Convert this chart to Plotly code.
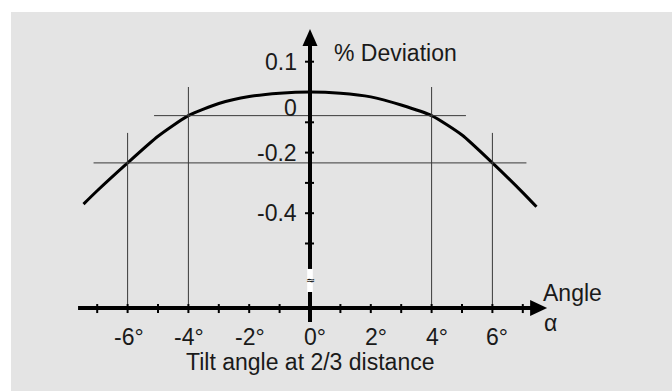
import plotly.graph_objects as go

# curve: tilt angle (deg) vs % deviation
angle = [-7.45, -7.0, -6.0, -5.0, -4.0, -3.0, -2.0, -1.0, 0.0,
         1.0, 2.0, 3.0, 4.0, 5.0, 6.0, 7.0, 7.45]
deviation = [-0.370, -0.326, -0.234, -0.146, -0.078, -0.038, -0.015, -0.004, 0.0,
             -0.004, -0.016, -0.043, -0.078, -0.142, -0.234, -0.332, -0.379]

# marked angles and the deviation there
ref_angle = [4, 6]
ref_deviation = [-0.078, -0.234]

x_tick_vals = [-7, -6, -5, -4, -3, -2, -1, 0, 1, 2, 3, 4, 5, 6, 7]
x_label_vals = [-6, -4, -2, 0, 2, 4, 6]
x_label_text = ["-6°", "-4°", "-2°", "0°", "2°", "4°", "6°"]
y_tick_vals = [0.1, 0, -0.1, -0.2, -0.3, -0.4, -0.5]
y_label_vals = [0.1, 0, -0.2, -0.4]
y_label_text = ["0.1", "0", "-0.2", "-0.4"]

# layout constants (pixel scale of the drawing)
W, H = 672, 391
X0_PX, PX_X = 310, 30.4     # px of 0 deg, px per degree
Y0_PX, PX_Y = 92, 303       # px of 0 %, px per 1.0 %


def dx(px):
    return px / PX_X


def dy(px):
    return px / PX_Y


AXIS_Y = -0.713             # where the (broken) x axis sits
X_START, X_TIP = -7.63, 7.8
Y_BOTTOM, Y_TIP = -0.759, 0.208
GAP = (-0.660, -0.584)
REF_TOP = [0.0165, -0.135]
REF_HALF = [5.13, 7.12]
FONT = dict(family="Liberation Sans, Arial, sans-serif", size=23, color="#1a1a1a")

fig = go.Figure()
fig.add_trace(go.Scatter(x=angle, y=deviation, mode="lines",
                         line=dict(color="black", width=3, shape="spline", smoothing=0.6),
                         hoverinfo="skip", showlegend=False))

shapes = []
# grey panel
shapes.append(dict(type="rect", xref="paper", yref="paper", x0=11 / W, x1=1,
                   y0=0, y1=1 - 12 / H, fillcolor="#e4e4e4", line_width=0,
                   layer="below"))

# reference lines at the marked angles
for a, d, top, half in zip(ref_angle, ref_deviation, REF_TOP, REF_HALF):
    for s in (-1, 1):
        shapes.append(dict(type="line", x0=s * a, x1=s * a, y0=AXIS_Y, y1=top,
                           line=dict(color="#3a3a3a", width=1)))
    shapes.append(dict(type="line", x0=-half, x1=half, y0=d, y1=d,
                       line=dict(color="#3a3a3a", width=1)))

# x axis with arrow
shapes.append(dict(type="line", x0=X_START, x1=X_TIP - dx(15), y0=AXIS_Y, y1=AXIS_Y,
                   line=dict(color="black", width=4)))
shapes.append(dict(type="path", fillcolor="black", line_width=0,
                   path=f"M {X_TIP},{AXIS_Y} L {X_TIP - dx(17)},{AXIS_Y + dy(8)} "
                        f"L {X_TIP - dx(17)},{AXIS_Y - dy(8)} Z"))
for t in x_tick_vals:
    shapes.append(dict(type="line", x0=t, x1=t, y0=AXIS_Y + dy(4), y1=AXIS_Y - dy(5),
                       line=dict(color="black", width=2)))

# y axis with arrow
shapes.append(dict(type="line", x0=0, x1=0, y0=Y_BOTTOM, y1=Y_TIP - dy(15),
                   line=dict(color="black", width=4)))
shapes.append(dict(type="path", fillcolor="black", line_width=0,
                   path=f"M 0,{Y_TIP} L {dx(7.5)},{Y_TIP - dy(17)} "
                        f"L {-dx(7.5)},{Y_TIP - dy(17)} Z"))
for t in y_tick_vals:
    shapes.append(dict(type="line", x0=-dx(5), x1=dx(4), y0=t, y1=t,
                       line=dict(color="black", width=2)))
# axis break
shapes.append(dict(type="rect", x0=-dx(2.8), x1=dx(2.8), y0=GAP[0], y1=GAP[1],
                   fillcolor="white", line_width=0))

annotations = []
for v, txt in zip(x_label_vals, x_label_text):
    annotations.append(dict(x=v, y=AXIS_Y, yshift=-29, xshift=5 if v >= 0 else 1,
                            text=txt, showarrow=False, xanchor="center",
                            yanchor="middle", font=FONT))
for v, txt in zip(y_label_vals, y_label_text):
    shift = -16 if v == 0 else 0
    annotations.append(dict(x=0, y=v, xshift=-11, yshift=shift, text=txt,
                            showarrow=False, xanchor="right", yanchor="middle", font=FONT))

annotations += [
    dict(x=0, y=dy(39), xshift=22, text="% Deviation", showarrow=False,
         xanchor="left", yanchor="middle", font=FONT),
    dict(x=X_TIP, y=AXIS_Y, xshift=-6, yshift=15, text="Angle", showarrow=False,
         xanchor="left", yanchor="middle", font=FONT),
    dict(x=X_TIP, y=AXIS_Y, xshift=-5, yshift=-15, text="α", showarrow=False,
         xanchor="left", yanchor="middle", font=FONT),
    dict(x=0, y=AXIS_Y, yshift=-54, text="Tilt angle at 2/3 distance", showarrow=False,
         xanchor="center", yanchor="middle", font=FONT),
    dict(x=0, y=sum(GAP) / 2, text="≈", showarrow=False, xanchor="center",
         yanchor="middle", font=dict(family="DejaVu Sans", size=11, color="black")),
]

fig.update_layout(
    width=W, height=H,
    margin=dict(l=0, r=0, t=0, b=0, pad=0),
    paper_bgcolor="white", plot_bgcolor="rgba(0,0,0,0)",
    xaxis=dict(visible=False, range=[-X0_PX / PX_X, (W - X0_PX) / PX_X], fixedrange=True),
    yaxis=dict(visible=False, range=[(Y0_PX - H) / PX_Y, Y0_PX / PX_Y], fixedrange=True),
    shapes=shapes, annotations=annotations, showlegend=False,
)

# drop the default page margin so the figure fills the window exactly
fig.write_html("out.html", config={"displayModeBar": False},
               post_script="document.body.style.margin='0';"
                           "document.body.style.overflow='hidden';")
